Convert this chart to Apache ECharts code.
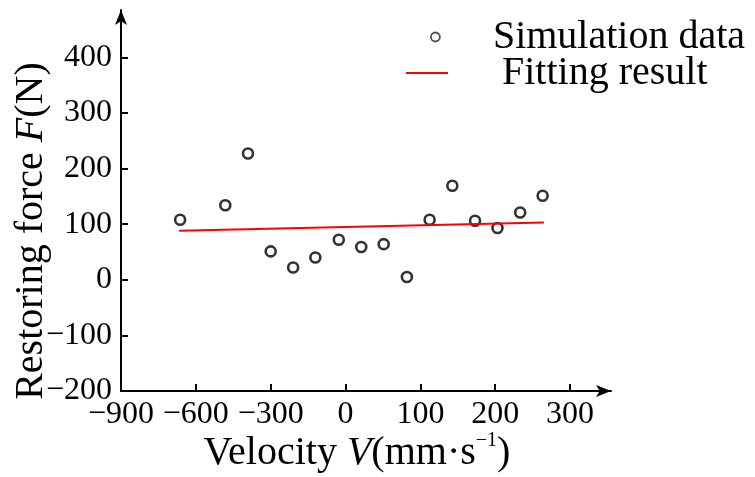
<!DOCTYPE html>
<html>
<head>
<meta charset="utf-8">
<script src="https://cdn.jsdelivr.net/npm/echarts@6/dist/echarts.min.js"></script>
<style>html,body{margin:0;padding:0;background:#fff}#c{width:755px;height:477px}</style>
</head>
<body>
<div id="c"></div>
<script>
// Data
const simVelocity = [-663, -482, -391, -300, -210, -121, -27, 63, 153, 246, 337, 428, 519, 609, 700, 790];
const simForce    = [108, 134, 227, 51, 22, 40, 72, 59, 64, 5, 108, 169, 106, 93, 121, 151];
const fitVelocity = [-667, 795];
const fitForce    = [88, 103];
const xTickValues = [-900, -600, -300, 0, 300, 600, 900];
const xTickLabels = ['\u2212900', '\u2212600', '\u2212300', '0', '100', '200', '300'];
const yTickValues = [-200, -100, 0, 100, 200, 300, 400];
const seriesNames = ['Simulation data', 'Fitting result'];

const FONT = 'Liberation Serif';
const chart = echarts.init(document.getElementById('c'));
const simData = simVelocity.map((v, i) => [v, simForce[i]]);
const fitData = fitVelocity.map((v, i) => [v, fitForce[i]]);

chart.setOption({
  animation: false,
  backgroundColor: '#fff',
  textStyle: { fontFamily: FONT, color: '#000' },
  grid: { left: 121, right: 144, top: 10, bottom: 86, containLabel: false, outerBoundsMode: 'none' },
  legend: [
    {
      data: [{ name: seriesNames[0], icon: 'circle', itemStyle: { color: '#fff', borderColor: '#222', borderWidth: 1.8 } }],
      left: 430, top: 17, padding: 0,
      itemWidth: 9, itemHeight: 9,
      formatter: n => '{s|}' + n,
      textStyle: { fontFamily: FONT, fontSize: 40, color: '#000', rich: { s: { width: 48 } } }
    },
    {
      data: [{ name: seriesNames[1], icon: 'rect', itemStyle: { color: '#ff0000' } }],
      left: 406, top: 53, padding: 0,
      itemWidth: 42, itemHeight: 2,
      formatter: n => '{s|}' + n,
      textStyle: { fontFamily: FONT, fontSize: 40, color: '#000', rich: { s: { width: 49 } } }
    }
  ],
  xAxis: {
    type: 'value', min: -900, max: 1064,
    splitLine: { show: false },
    axisLine: { onZero: false, lineStyle: { color: '#000', width: 2 }, symbol: ['none', 'arrow'], symbolSize: [9, 15] },
    axisTick: { inside: true, length: 7, lineStyle: { color: '#000', width: 2 }, customValues: xTickValues },
    axisLabel: {
      customValues: xTickValues, margin: 8, fontFamily: FONT, fontSize: 32, color: '#000',
      formatter: v => xTickLabels[xTickValues.indexOf(v)]
    },
    name: '{r|Velocity }{i|V}{r|(mm\u00b7s}{sup|\u22121}{r|)}',
    nameLocation: 'middle', nameGap: 40, nameMoveOverlap: false,
    nameTextStyle: {
      fontFamily: FONT, fontSize: 40, color: '#000', padding: [0, 18, 0, 0],
      rich: {
        r: { fontFamily: FONT, fontSize: 40, color: '#000', lineHeight: 44 },
        i: { fontFamily: FONT, fontSize: 40, color: '#000', fontStyle: 'italic', lineHeight: 44 },
        sup: { fontFamily: FONT, fontSize: 20, color: '#000', verticalAlign: 'top', lineHeight: 26 }
      }
    }
  },
  yAxis: {
    type: 'value', min: -200, max: 485,
    splitLine: { show: false },
    axisLine: { onZero: false, lineStyle: { color: '#000', width: 2 }, symbol: ['none', 'arrow'], symbolSize: [9, 15] },
    axisTick: { inside: true, length: 7, lineStyle: { color: '#000', width: 2 }, customValues: yTickValues },
    axisLabel: {
      customValues: yTickValues, margin: 9, fontFamily: FONT, fontSize: 32, color: '#000',
      formatter: v => String(v).replace('-', '\u2212')
    },
    name: '{r|Restoring force }{i|F}{r|(N)}',
    nameLocation: 'middle', nameGap: 70, nameRotate: 90, nameMoveOverlap: false,
    nameTextStyle: {
      fontFamily: FONT, fontSize: 40, color: '#000', padding: [0, 61, 0, 0],
      rich: {
        r: { fontFamily: FONT, fontSize: 40, color: '#000' },
        i: { fontFamily: FONT, fontSize: 40, color: '#000', fontStyle: 'italic' }
      }
    }
  },
  series: [
    {
      name: seriesNames[0], type: 'scatter', data: simData,
      symbol: 'circle', symbolSize: 10,
      itemStyle: { color: '#fff', borderColor: '#000', borderWidth: 2.6 }
    },
    {
      name: seriesNames[1], type: 'line', data: fitData,
      symbol: 'none', showSymbol: false,
      lineStyle: { color: '#ff0000', width: 2 },
      itemStyle: { color: '#ff0000' }
    }
  ]
});
</script>
</body>
</html>
